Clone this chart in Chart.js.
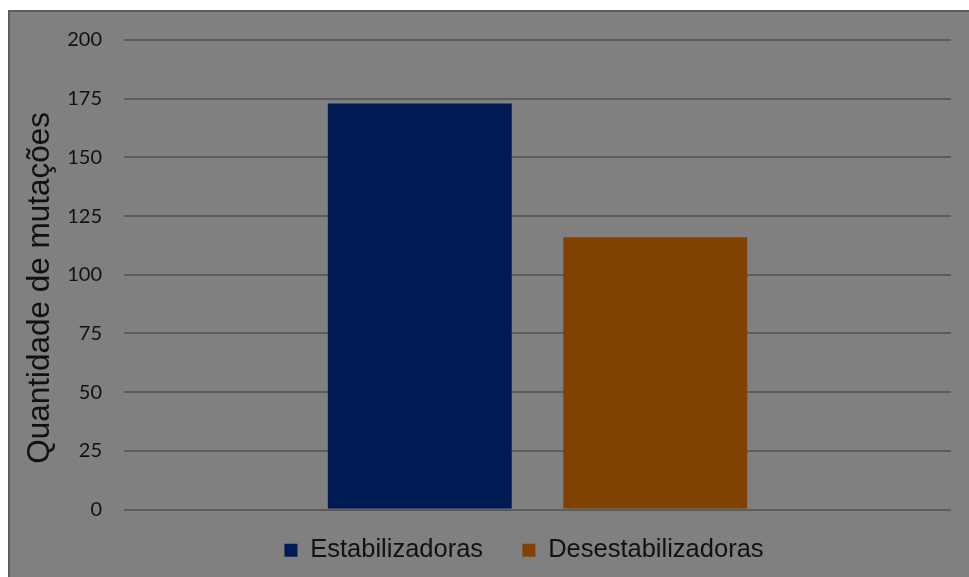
<!DOCTYPE html>
<html>
<head>
<meta charset="utf-8">
<script src="https://cdn.jsdelivr.net/npm/chart.js@4.4.1/dist/chart.umd.min.js"></script>
<style>
  html, body { margin: 0; padding: 0; background: #ffffff; overflow: hidden; }
  #frame {
    position: absolute; left: 8px; top: 10px;
    width: 1000px; height: 600px;
    background: #808080; border: 2px solid #5e5e5e;
  }
  #wrap { position: absolute; left: 0; top: 0; width: 969px; height: 577px; }
</style>
</head>
<body>
<div id="frame"></div>
<div id="wrap"><canvas id="mutacoes"></canvas></div>
<script>
    "use strict";

    // Mutation counts by type
    var categorias = [""];
    var estabilizadoras = [173];
    var desestabilizadoras = [116];
    var yTicks = [0, 25, 50, 75, 100, 125, 150, 175, 200];

    // Nudge the legend so it sits under the bars rather than the whole canvas
    var legendShift = {
        id: "legendShift",
        afterLayout: function (chart) {
            if (chart.legend) {
                chart.legend.left += 97;
            }
        }
    };

    var ctx = document.getElementById("mutacoes").getContext("2d");
    var myChart = new Chart(ctx, {
        type: "bar",
        data: {
            labels: categorias,
            datasets: [{
                    // trailing spaces widen the gap before the next legend item
                    label: "Estabilizadoras\u00a0\u00a0\u2009",
                    data: estabilizadoras,
                    backgroundColor: "#001a54"
                },
                {
                    label: "Desestabilizadoras",
                    data: desestabilizadoras,
                    backgroundColor: "#7f4200"
                }
            ]
        },
        plugins: [legendShift],
        options: {
            responsive: true,
            maintainAspectRatio: false,
            animation: false,
            layout: { padding: { top: 40, right: 18, left: 0, bottom: 4 } },
            datasets: {
                bar: { categoryPercentage: 0.5695, barPercentage: 0.781 }
            },
            plugins: {
                tooltip: { enabled: false },
                legend: {
                    position: "bottom",
                    labels: {
                        boxWidth: 13,
                        boxHeight: 13,
                        padding: 20,
                        color: "#111111",
                        font: { family: "'Liberation Sans', Arial, sans-serif", size: 25.5 }
                    }
                }
            },
            scales: {
                x: {
                    ticks: { display: false },
                    grid: { display: false },
                    border: { display: false }
                },
                y: {
                    min: 0,
                    max: 200,
                    afterBuildTicks: function (scale) {
                        scale.ticks = yTicks.map(function (v) { return { value: v }; });
                    },
                    afterFit: function (scale) { scale.width = 124; },
                    ticks: {
                        padding: 22,
                        color: "#111111",
                        font: { family: "Lato, 'Open Sans', sans-serif", size: 20 }
                    },
                    grid: { color: "#5c5c5c", lineWidth: 2, drawTicks: false },
                    border: { display: false },
                    title: {
                        display: true,
                        text: "Quantidade de mutações\u00a0\u00a0\u00a0",
                        color: "#111111",
                        padding: { top: 21, bottom: 0 },
                        font: { family: "'Liberation Sans', Arial, sans-serif", size: 31.5 }
                    }
                }
            }
        }
    });
</script>
</body>
</html>
